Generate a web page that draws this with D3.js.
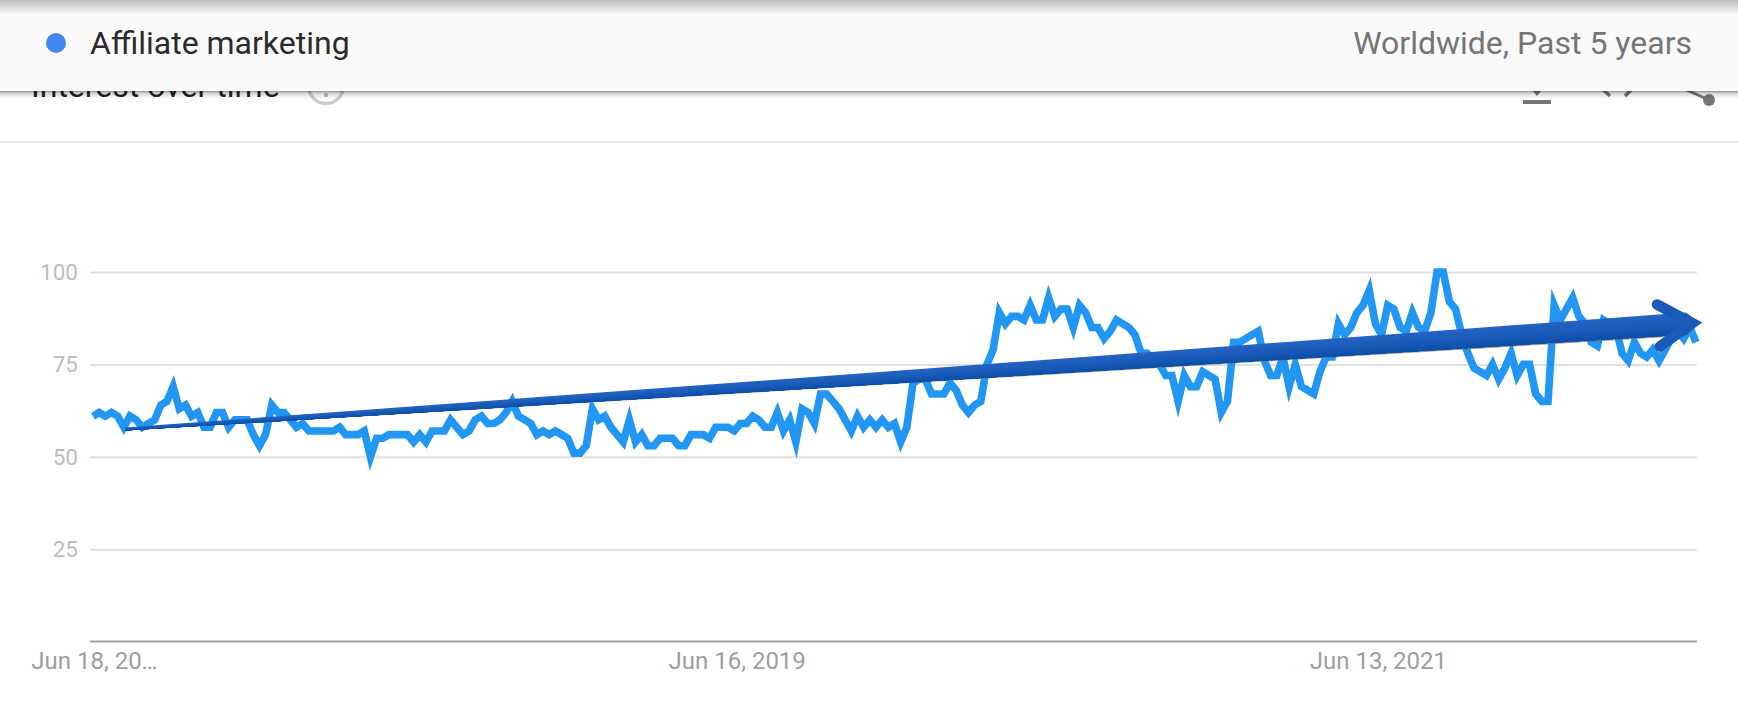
<!DOCTYPE html>
<html><head><meta charset="utf-8">
<script src="https://cdn.jsdelivr.net/npm/d3@7"></script>
<style>html,body{margin:0;padding:0;background:#fff;overflow:hidden}svg{display:block}text{font-family:Roboto,sans-serif}</style>
</head><body><svg id="c" width="1738" height="710"></svg>
<script>
const seriesName = "Affiliate marketing";
const regionLabel = "Worldwide, Past 5 years";
const sectionTitle = "Interest over time";
const values = [
61,62,61,62,61,58,61,60,58,59,60,64,65,69,63,64,61,62,58,58,
62,62,58,60,60,60,56,53,56,64,62,62,60,58,59,57,57,57,57,57,
58,56,56,56,57,50,55,55,56,56,56,56,54,56,54,57,57,57,60,58,
56,57,60,61,59,59,60,62,65,61,60,59,56,57,56,57,56,55,51,51,
53,63,60,61,58,56,54,60,54,56,53,53,55,55,55,53,53,56,56,56,
55,58,58,58,57,59,59,61,60,58,58,62,57,60,54,63,62,59,67,67,
65,63,60,57,61,58,60,58,60,58,59,54,58,70,71,71,67,67,67,70,
68,64,62,64,65,75,79,89,86,88,88,87,91,87,87,93,88,90,90,85,
91,89,85,85,82,84,87,86,85,83,78,78,76,75,72,72,65,72,69,69,
73,72,71,62,65,81,81,82,83,84,76,72,72,77,69,75,69,68,67,73,
77,77,86,83,85,89,91,95,86,83,91,90,85,84,89,85,84,89,100,100,
92,90,83,78,74,73,72,75,71,74,78,72,75,75,67,65,65,91,87,90,
93,88,86,81,80,87,86,85,78,76,81,78,77,79,76,79,82,84,82,85,81];
const yTicks = [25,50,75,100];
const xTickIndex = [0,104,208];
const xTickLabels = ["Jun 18, 20…","Jun 16, 2019","Jun 13, 2021"];
const trendIndex = [5.2,260.7];
const trendValue = [57.5,86.3];

const svg = d3.select("#c");
const x = d3.scaleLinear().domain([0,values.length-1]).range([93,1696]);
const y = d3.scaleLinear().domain([0,100]).range([641.6,272]);
const defs = svg.append("defs");
const gTop = defs.append("linearGradient").attr("id","topShade").attr("x1",0).attr("x2",0).attr("y1",0).attr("y2",1);
gTop.append("stop").attr("offset",0).attr("stop-color","#bdbdbd");
gTop.append("stop").attr("offset",1).attr("stop-color","#fafafa");
const gBot = defs.append("linearGradient").attr("id","botShade").attr("x1",0).attr("x2",0).attr("y1",0).attr("y2",1);
gBot.append("stop").attr("offset",0).attr("stop-color","#000").attr("stop-opacity",.42);
gBot.append("stop").attr("offset",.35).attr("stop-color","#000").attr("stop-opacity",.14);
gBot.append("stop").attr("offset",1).attr("stop-color","#000").attr("stop-opacity",0);

// section header behind the card
svg.append("text").attr("x",31).attr("y",97).attr("font-size",32).attr("fill","#212121").text(sectionTitle);
svg.append("circle").attr("cx",326).attr("cy",86).attr("r",17.5).attr("fill","none").attr("stroke","#cccccc").attr("stroke-width",3.5);
svg.append("circle").attr("cx",326).attr("cy",95).attr("r",2.2).attr("fill","#bdbdbd");
const icon = svg.append("g").attr("fill","#757575").attr("stroke","#757575");
icon.append("rect").attr("x",1523).attr("y",100).attr("width",28).attr("height",4).attr("stroke","none");
icon.append("path").attr("d","M1533 91H1541L1537 96Z").attr("stroke","none");
icon.append("path").attr("d","M1600 87L1610 96M1634 87L1625 96").attr("fill","none").attr("stroke-width",3.5);
icon.append("path").attr("d","M1680 87L1709 100").attr("fill","none").attr("stroke-width",3);
icon.append("circle").attr("cx",1709).attr("cy",100).attr("r",6).attr("stroke","none");
svg.append("line").attr("x1",0).attr("x2",1738).attr("y1",142).attr("y2",142).attr("stroke","#e0e0e0").attr("stroke-width",1.5);

// axes
const yAxis = svg.append("g").attr("transform",`translate(90,0)`)
  .call(d3.axisLeft(y).tickValues(yTicks).tickSize(-(1697-90)).tickPadding(12));
yAxis.select(".domain").remove();
yAxis.selectAll("line").attr("stroke","#e0e0e0").attr("stroke-width",2);
yAxis.selectAll("text").attr("font-size",22.5).attr("fill","#bdbdbd").attr("font-family","Roboto,sans-serif");

const xAxis = svg.append("g").attr("transform",`translate(0,${y(0)})`)
  .call(d3.axisBottom(x).tickValues(xTickIndex).tickFormat((d,i)=>xTickLabels[i]).tickSize(0).tickPadding(10));
xAxis.select(".domain").attr("d","M90 0H1697").attr("stroke","#9e9e9e").attr("stroke-width",2);
xAxis.selectAll("text").attr("font-size",24).attr("fill","#9e9e9e").attr("font-family","Roboto,sans-serif").attr("dx",(d,i)=>i===0?1:2.5);

// series
svg.append("path").datum(values)
  .attr("fill","none").attr("stroke","#2196f3").attr("stroke-width",7.6).attr("stroke-linejoin","miter").attr("stroke-miterlimit",5)
  .attr("d",d3.line().x((d,i)=>x(i)).y(d=>y(d)));

// trend arrow
const tip = [x(trendIndex[1]),y(trendValue[1])];
const start = [x(trendIndex[0]),y(trendValue[0])];
const dx = tip[0]-start[0], dy = tip[1]-start[1], len = Math.hypot(dx,dy);
const ux = dx/len, uy = dy/len, nx = -uy, ny = ux;
const w0 = 3, w1 = 22, shaftEnd = len-14;
const pt = (t,f)=>{ const s=t*shaftEnd, w=w0+(w1-w0)*t; return [start[0]+ux*s+nx*w*f, start[1]+uy*s+ny*w*f]; };
const band = (a,b)=>[pt(0,a),pt(1,a),pt(1,b),pt(0,b)];
const polyLine = d3.line().curve(d3.curveLinearClosed);
const arrow = svg.append("g");
arrow.append("path").attr("d",polyLine(band(.4,.56))).attr("fill","#6b6b6b").attr("opacity",.75);
const shade = d3.scaleLinear().domain([0,.5,1]).range(["#2563c4","#1a5cb9","#0b4fa8"]);
d3.range(10).forEach(k=>{
  arrow.append("path").attr("d",polyLine(band(-.5+k*.1,.5))).attr("fill",shade((k+.5)/10));
});
arrow.append("path").attr("d",polyLine([pt(1,-.5),tip,pt(1,.5)])).attr("fill","#1a5ab8");
const barb = 42, hw = 21;
const bodyBack = s=>[tip[0]-ux*barb+nx*hw*s, tip[1]-uy*barb+ny*hw*s];
const inner = [tip[0]-ux*8,tip[1]-uy*8];
arrow.append("path").attr("d",d3.line()([bodyBack(-1),inner,bodyBack(1)]))
  .attr("fill","none").attr("stroke","#1a5ab8").attr("stroke-width",10.5).attr("stroke-linecap","round").attr("stroke-linejoin","miter").attr("stroke-miterlimit",6);

// floating card
svg.append("rect").attr("x",0).attr("y",91).attr("width",1738).attr("height",8).attr("fill","url(#botShade)");
svg.append("rect").attr("x",0).attr("y",0).attr("width",1738).attr("height",91).attr("fill","#fafafa");
svg.append("rect").attr("x",0).attr("y",0).attr("width",1738).attr("height",15).attr("fill","url(#topShade)");
svg.append("circle").attr("cx",56).attr("cy",43).attr("r",10).attr("fill","#4285f4");
svg.append("text").attr("x",90).attr("y",54).attr("font-size",32).attr("fill","#2b2b2b").text(seriesName);
svg.append("text").attr("x",1692).attr("y",54).attr("text-anchor","end").attr("font-size",32).attr("fill","#757575").text(regionLabel);
</script></body></html>
